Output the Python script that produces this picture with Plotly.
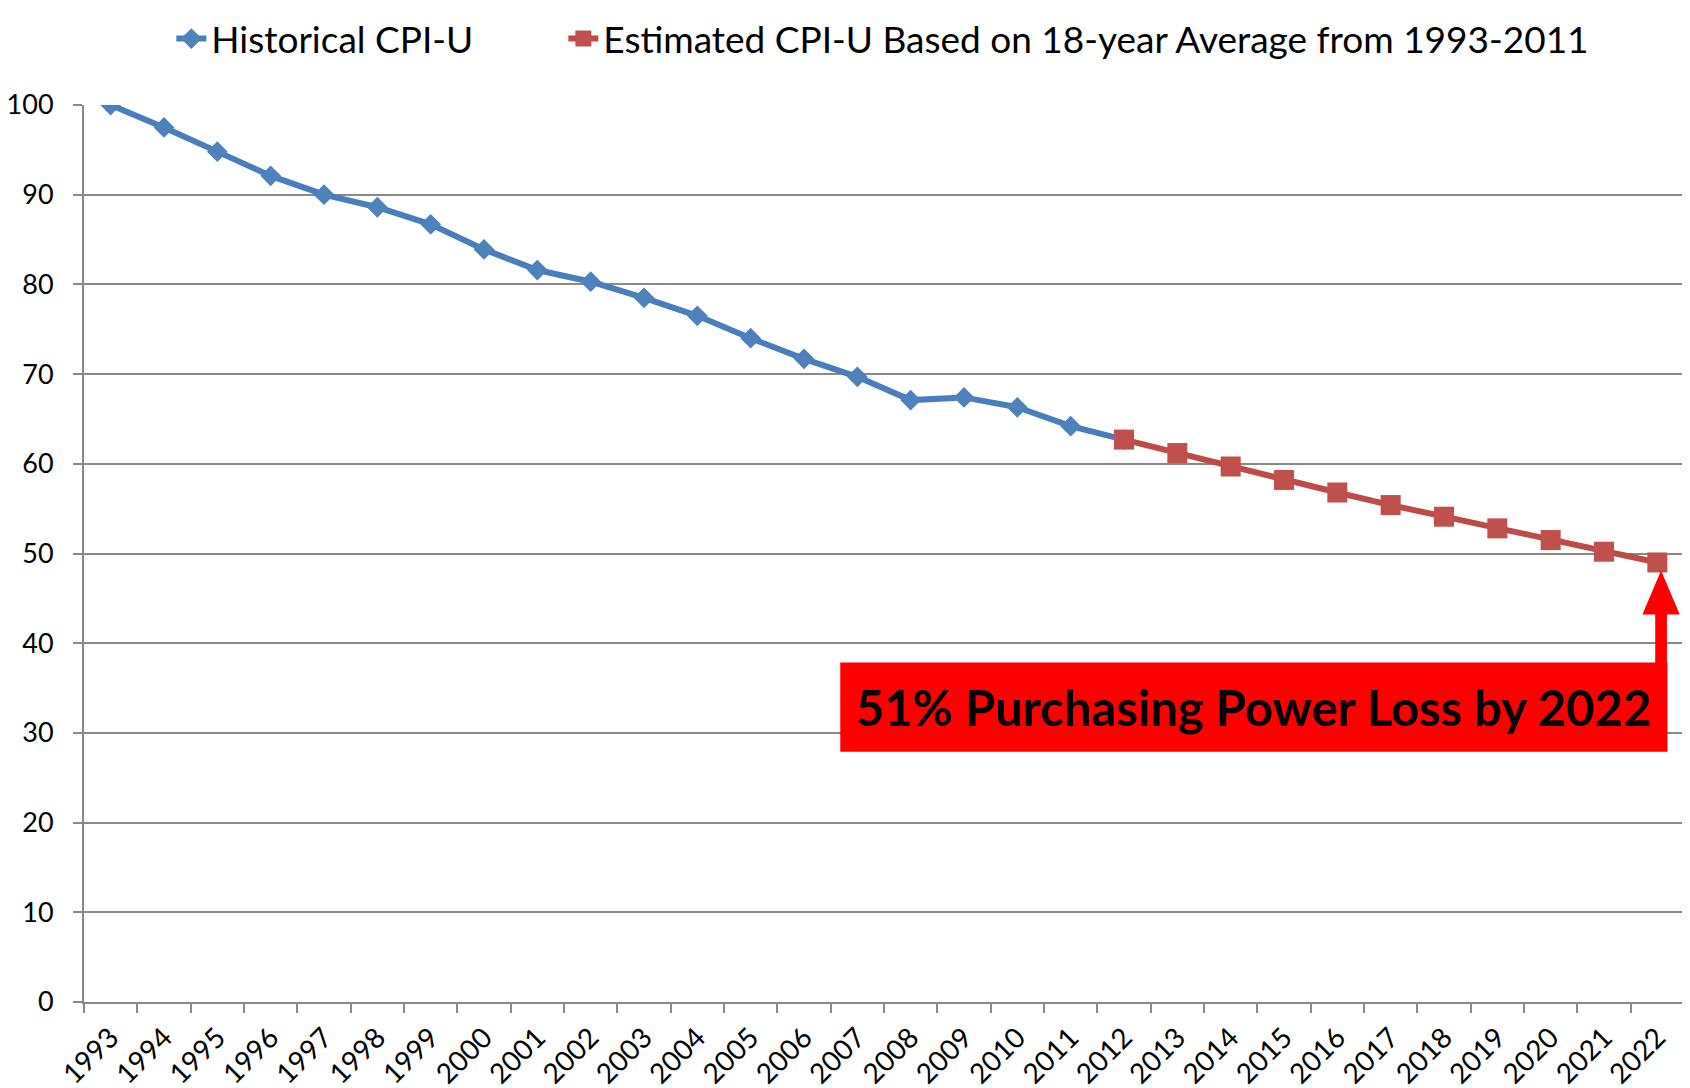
import plotly.graph_objects as go

# ---- data ----
hist_years = list(range(1993, 2013))
hist_values = [100.0, 97.5, 94.8, 92.1, 90.0, 88.6, 86.7, 83.9, 81.6, 80.3,
               78.5, 76.5, 74.0, 71.7, 69.7, 67.1, 67.4, 66.3, 64.2, 62.7]
est_years = list(range(2012, 2023))
est_values = [62.7, 61.2, 59.7, 58.2, 56.8, 55.4, 54.1, 52.8, 51.5, 50.2, 49.0]
all_years = list(range(1993, 2023))
tick_labels = [str(y) for y in all_years]
y_ticks = [0, 10, 20, 30, 40, 50, 60, 70, 80, 90, 100]

hist_name = "Historical CPI-U"
est_name = "Estimated CPI-U Based on 18-year Average from 1993-2011"
callout_text = "51% Purchasing Power Loss by 2022"

FONT = "Lato"
GRID = "#898989"

W, H = 1690, 1088
L, T = 76, 97
PW, PH = 1600.5, 897.5

fig = go.Figure()
fig.add_trace(go.Scatter(
    x=hist_years, y=hist_values, name=hist_name, mode="lines+markers",
    line=dict(color="#4A7EBB", width=6),
    marker=dict(symbol="diamond", size=16, color="#4F81BD"),
    legend="legend",
))
fig.add_trace(go.Scatter(
    x=est_years, y=est_values, name=est_name, mode="lines+markers",
    line=dict(color="#BE4B48", width=6),
    marker=dict(symbol="square", size=20, color="#C0504D"),
    legend="legend2",
))

# callout box + arrow
fig.add_shape(type="rect", xref="x", yref="y", x0=2006.68, x1=2022.19,
              y0=27.9, y1=37.85, fillcolor="#FF0000", line=dict(width=0),
              layer="above")
fig.add_shape(type="rect", xref="x", yref="y", x0=2021.96, x1=2022.18,
              y0=37.5, y1=43.3, fillcolor="#FF0000", line=dict(width=0),
              layer="above")
fig.add_shape(type="path", xref="x", yref="y",
              path="M 2021.72 43.2 L 2022.42 43.2 L 2022.07 48.1 Z",
              fillcolor="#FF0000", line=dict(width=0), layer="above")
fig.add_annotation(x=(2006.68 + 2022.19) / 2, y=(27.9 + 37.85) / 2,
                   xref="x", yref="y", text="<b>" + callout_text + "</b>",
                   showarrow=False,
                   font=dict(family=FONT, size=49, color="black"))

legend_common = dict(orientation="h", xanchor="left",
                     yref="container", y=1, yanchor="top",
                     font=dict(family=FONT, size=37, color="black"),
                     bgcolor="rgba(0,0,0,0)")

fig.update_layout(
    width=W, height=H,
    margin=dict(l=L, r=W - L - PW, t=T, b=H - T - PH, autoexpand=False),
    paper_bgcolor="white", plot_bgcolor="white",
    font=dict(family=FONT, color="black"),
    showlegend=True,
    legend=dict(x=(163.4 - L) / PW, **legend_common),
    legend2=dict(x=(555.5 - L) / PW, **legend_common),
    xaxis=dict(
        range=[1992.5, 2022.5], tickmode="array", tickvals=all_years,
        ticktext=tick_labels, tickangle=-45, ticks="", showgrid=False,
        zeroline=False, showline=True, linecolor=GRID, linewidth=2,
        ticklabelstandoff=6,
        tickfont=dict(family=FONT, size=28, color="black"),
        minor=dict(tickmode="array",
                   tickvals=[y - 0.5 for y in all_years] + [all_years[-1] + 0.5],
                   ticks="outside", ticklen=9, tickwidth=2, tickcolor=GRID,
                   showgrid=False),
    ),
    yaxis=dict(
        range=[0, 100], tickmode="array", tickvals=y_ticks,
        showgrid=True, gridcolor=GRID, gridwidth=2, zeroline=False,
        showline=True, linecolor=GRID, linewidth=2,
        ticks="outside", ticklen=9, tickwidth=2, tickcolor=GRID,
        ticklabelstandoff=14,
        tickfont=dict(family=FONT, size=27, color="black"),
    ),
)

fig.write_html("out.html")
